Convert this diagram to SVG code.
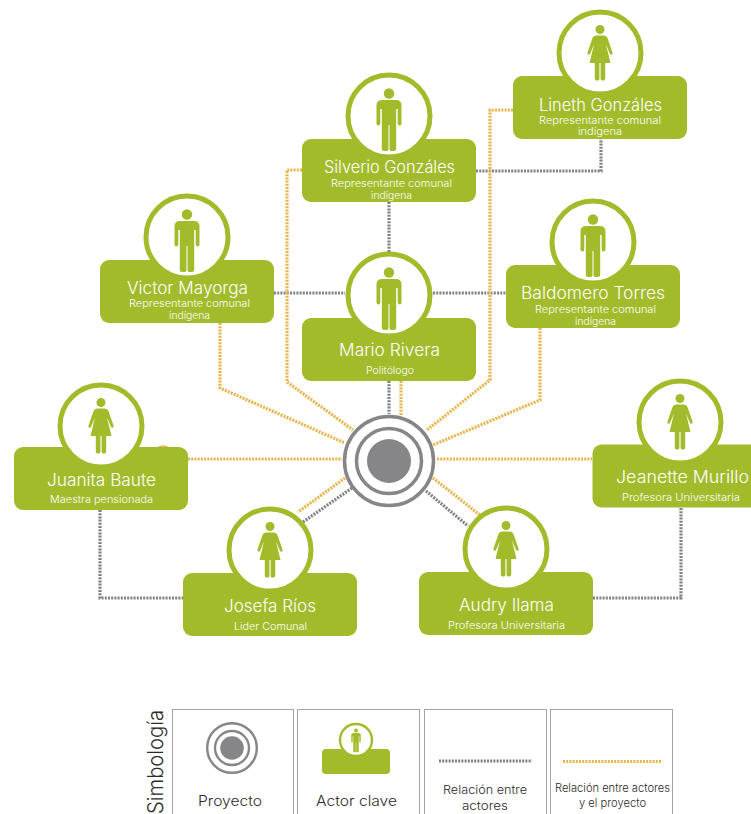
<svg xmlns="http://www.w3.org/2000/svg" width="751" height="814" viewBox="0 0 751 814">
<style>
text{font-family:"Inter","Liberation Sans",sans-serif;font-weight:300;text-anchor:middle}
.n{fill:#fff;font-size:17px}
.s{fill:#fff;font-size:10px}
.k{fill:#2b2b2b}
.box{fill:#a2bb2b}
.ring{fill:#fff;stroke:#a2bb2b;stroke-width:5}
.fig{fill:#a2bb2b}
.g,.o{fill:none;stroke-width:3.200;stroke-dasharray:2 1.200}
.g{stroke:#808184}
.o{stroke:#e9b44c}
.lg{fill:#fff;stroke:#a3a3a3;stroke-width:1}
.c{fill:none;stroke:#868689}
</style>
<defs>
<g id="man">
<circle cx="0" cy="-22.500" r="5.200"/>
<path d="M-7-16H7Q12.500-16 12.500-10.500V7.500Q12.500 9.500 10.600 9.500Q8.700 9.500 8.700 7.500V-7H7.200V33Q7.200 35 5 35H2.200Q.5 35 .5 33V9H-.5V33Q-.5 35-2.200 35H-5Q-7.200 35-7.200 33V-7H-8.700V7.500Q-8.700 9.500-10.600 9.500Q-12.500 9.500-12.500 7.500V-10.500Q-12.500-16-7-16Z"/>
</g>
<g id="woman">
<circle cx="0" cy="-23.500" r="4.500"/>
<path d="M-4-17.500H4Q6.500-17.500 7.500-15L12.500-.5Q13 1.500 11.500 1.800Q10.300 2 9.800.5L6-8.500L10.500 10H5.200V25.500Q5.200 27.500 3.400 27.500H2Q.6 27.500 .6 25.500V10H-.6V25.500Q-.6 27.500-2 27.500H-3.400Q-5.200 27.500-5.200 25.500V10H-10.500L-6-8.500L-9.800.5Q-10.300 2-11.500 1.800Q-13 1.500-12.500-.5L-7.500-15Q-6.500-17.500-4-17.500Z"/>
</g>
</defs>
<rect width="751" height="814" fill="#fff"/>
<g id="connectors">
<path class="g" d="M476 171H601V139"/>
<path class="g" d="M389 202V252"/>
<path class="g" d="M274 293H345M433 293H506"/>
<path class="g" d="M100 510V598H183"/>
<path class="g" d="M593 598H681V507"/>
<path class="g" d="M389 381V414"/>
<path class="g" d="M352 488L303 522"/>
<path class="g" d="M426 491L468 526"/>
<path class="o" d="M188 459H342"/>
<path class="o" d="M437 459H592"/>
<path class="o" d="M220 323V388L345 443"/>
<path class="o" d="M302 170H287V382L353 430"/>
<path class="o" d="M540 328V400L433 445"/>
<path class="o" d="M513 110H490V380L427 430"/>
<path class="o" d="M401 381V415"/>
<path class="o" d="M345 478L298 512"/>
<path class="o" d="M433 478L480 515"/>
<path d="M158 447.500Q163 444.500 168 447.500" fill="none" stroke="#e9b44c" stroke-width="1.500"/>
</g>
<g id="proyecto">
<circle cx="389" cy="461" r="44.500" fill="#fff" stroke="#868689" stroke-width="3.500"/>
<circle cx="389" cy="461" r="32.500" fill="#fff" stroke="#868689" stroke-width="3.500"/>
<circle cx="389" cy="461" r="22" fill="#868689"/>
</g>
<g id="lineth">
<rect class="box" x="513" y="76" width="174" height="63" rx="9"/>
<circle class="ring" cx="600" cy="53" r="41"/>
<use href="#woman" x="600" y="53" class="fig"/>
<text class="n" x="600.500" y="110.500" textLength="123" lengthAdjust="spacingAndGlyphs">Lineth Gonzáles</text>
<text class="s" x="600" y="123.500" textLength="122" lengthAdjust="spacingAndGlyphs">Representante comunal</text>
<text class="s" x="600" y="135" textLength="44" lengthAdjust="spacingAndGlyphs">indígena</text>
</g>
<g id="silverio">
<rect class="box" x="302" y="139" width="174" height="63" rx="9"/>
<circle class="ring" cx="389" cy="116" r="41"/>
<use href="#man" x="389" y="116" class="fig"/>
<text class="n" x="389.500" y="173" textLength="131" lengthAdjust="spacingAndGlyphs">Silverio Gonzáles</text>
<text class="s" x="391.500" y="187" textLength="121" lengthAdjust="spacingAndGlyphs">Representante comunal</text>
<text class="s" x="391.500" y="199" textLength="41" lengthAdjust="spacingAndGlyphs">indígena</text>
</g>
<g id="victor">
<rect class="box" x="100" y="260" width="174" height="63" rx="9"/>
<circle class="ring" cx="187" cy="237" r="41"/>
<use href="#man" x="187" y="237" class="fig"/>
<text class="n" x="187.500" y="294" textLength="121" lengthAdjust="spacingAndGlyphs">Victor Mayorga</text>
<text class="s" x="189.500" y="307" textLength="121" lengthAdjust="spacingAndGlyphs">Representante comunal</text>
<text class="s" x="189.500" y="319" textLength="41" lengthAdjust="spacingAndGlyphs">indígena</text>
</g>
<g id="baldomero">
<rect class="box" x="506" y="265" width="174" height="63" rx="9"/>
<circle class="ring" cx="593" cy="242" r="41"/>
<use href="#man" x="593" y="242" class="fig"/>
<text class="n" x="593" y="299" textLength="144" lengthAdjust="spacingAndGlyphs">Baldomero Torres</text>
<text class="s" x="595.500" y="313" textLength="121" lengthAdjust="spacingAndGlyphs">Representante comunal</text>
<text class="s" x="595.500" y="325" textLength="41" lengthAdjust="spacingAndGlyphs">indígena</text>
</g>
<g id="mario">
<rect class="box" x="302" y="318" width="174" height="63" rx="9"/>
<circle class="ring" cx="389" cy="295" r="41"/>
<use href="#man" x="389" y="295" class="fig"/>
<text class="n" x="389.500" y="356" textLength="101" lengthAdjust="spacingAndGlyphs">Mario Rivera</text>
<text class="s" x="390" y="374" textLength="48" lengthAdjust="spacingAndGlyphs">Politólogo</text>
</g>
<g id="juanita">
<rect class="box" x="14" y="447" width="174" height="63" rx="9"/>
<circle class="ring" cx="101" cy="426" r="41"/>
<use href="#woman" x="101" y="426" class="fig"/>
<text class="n" x="101.500" y="486" textLength="109" lengthAdjust="spacingAndGlyphs">Juanita Baute</text>
<text class="s" x="101.500" y="503" textLength="103" lengthAdjust="spacingAndGlyphs">Maestra pensionada</text>
</g>
<g id="jeanette">
<rect class="box" x="592.500" y="444.500" width="174" height="63" rx="9"/>
<circle class="ring" cx="680" cy="422" r="41"/>
<use href="#woman" x="680" y="422" class="fig"/>
<text class="n" x="682.500" y="483" textLength="133" lengthAdjust="spacingAndGlyphs">Jeanette Murillo</text>
<text class="s" x="681" y="501" textLength="118" lengthAdjust="spacingAndGlyphs">Profesora Universitaria</text>
</g>
<g id="josefa">
<rect class="box" x="183" y="573" width="174" height="63" rx="9"/>
<circle class="ring" cx="270" cy="550" r="41"/>
<use href="#woman" x="270" y="550" class="fig"/>
<text class="n" x="270" y="612" textLength="92" lengthAdjust="spacingAndGlyphs">Josefa Ríos</text>
<text class="s" x="270.500" y="630" textLength="73" lengthAdjust="spacingAndGlyphs">Lider Comunal</text>
</g>
<g id="audry">
<rect class="box" x="419" y="572" width="174" height="63" rx="9"/>
<circle class="ring" cx="506" cy="549" r="41"/>
<use href="#woman" x="506" y="549" class="fig"/>
<text class="n" x="506.500" y="611" textLength="95" lengthAdjust="spacingAndGlyphs">Audry Ilama</text>
<text class="s" x="506.500" y="629" textLength="117" lengthAdjust="spacingAndGlyphs">Profesora Universitaria</text>
</g>
<g id="simbologia">
<text class="k" transform="translate(163 814) rotate(-90)" x="52" y="0" font-size="21" textLength="104" lengthAdjust="spacingAndGlyphs">Simbología</text>
<rect class="lg" x="172.500" y="709.500" width="121" height="110"/>
<rect class="lg" x="297.500" y="709.500" width="122" height="110"/>
<rect class="lg" x="424.500" y="709.500" width="122" height="110"/>
<rect class="lg" x="550.500" y="709.500" width="122" height="110"/>
<circle class="c" cx="232" cy="748" r="24.800" stroke-width="2.400"/>
<circle class="c" cx="232" cy="748" r="17" stroke-width="2.400"/>
<circle cx="232" cy="748" r="11.800" fill="#868689"/>
<rect class="box" x="322" y="749" width="68" height="25" rx="4"/>
<circle cx="356" cy="740" r="16" fill="#fff" stroke="#a2bb2b" stroke-width="2.400"/>
<use href="#man" transform="translate(356 739) scale(.38)" class="fig"/>
<path class="g" d="M439 761H532" stroke-width="2.500"/>
<path class="o" d="M563 761.500H662" stroke-width="2.500"/>
<text class="k" x="230" y="806" font-size="14" textLength="64" lengthAdjust="spacingAndGlyphs">Proyecto</text>
<text class="k" x="356.500" y="806" font-size="14" textLength="81" lengthAdjust="spacingAndGlyphs">Actor clave</text>
<text class="k" x="485" y="794" font-size="12" textLength="84" lengthAdjust="spacingAndGlyphs">Relación entre</text>
<text class="k" x="485" y="810" font-size="12" textLength="46" lengthAdjust="spacingAndGlyphs">actores</text>
<text class="k" x="612.500" y="792" font-size="11" textLength="115" lengthAdjust="spacingAndGlyphs">Relación entre actores</text>
<text class="k" x="612.500" y="807" font-size="11" textLength="67" lengthAdjust="spacingAndGlyphs">y el proyecto</text>
</g>
</svg>
